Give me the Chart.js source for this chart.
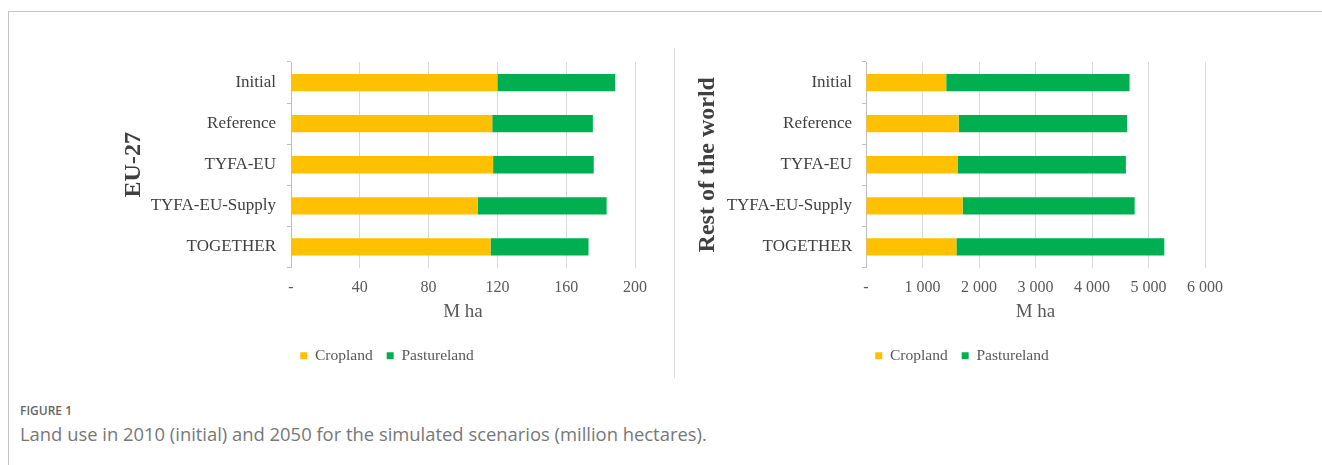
<!DOCTYPE html>
<html>
<head>
<meta charset="utf-8">
<script src="https://cdn.jsdelivr.net/npm/chart.js@4.4.0/dist/chart.umd.min.js"></script>
<style>
  body { margin: 0; background: #fff; width: 1322px; height: 465px; overflow: hidden; position: relative; }
  .frame { position: absolute; left: 8px; top: 11px; width: 1400px; height: 500px; border: 1px solid #c4c4c4; }
  .divider { position: absolute; left: 674px; top: 48px; width: 1px; height: 330px; background: #d9d9d9; }
  canvas { position: absolute; top: 0; }
  #eu { left: 0; }
  #row { left: 674px; }
  .fig { position: absolute; left: 20px; top: 402px; font: 600 12px "Open Sans"; color: #666; }
  .caption { position: absolute; left: 20px; top: 421px; font: 400 18.4px "Open Sans"; color: #777; }
</style>
</head>
<body>
<div class="frame"></div>
<div class="divider"></div>
<canvas id="eu" width="674" height="400"></canvas>
<canvas id="row" width="648" height="400"></canvas>
<div class="fig">FIGURE 1</div>
<div class="caption">Land use in 2010 (initial) and 2050 for the simulated scenarios (million hectares).</div>

<script>
const categories = ["Initial", "Reference", "TYFA-EU", "TYFA-EU-Supply", "TOGETHER"];

// EU-27, million hectares
const euCropland = [120, 117, 117.5, 108.5, 116];
const euPastureland = [68.5, 58.5, 58.5, 75, 57];

// Rest of the world, million hectares
const rowCropland = [1420, 1640, 1620, 1710, 1600];
const rowPastureland = [3245, 2980, 2980, 3045, 3680];

const euTicks = { max: 200, step: 40 };
const rowTicks = { max: 6000, step: 1000 };

const cropColor = "#FFC000";
const pastureColor = "#00B050";
const serif = "'Liberation Serif', 'Times New Roman', serif";

// Excel style: "-" for zero, space as thousands separator
const formatTick = (v) => (v === 0 ? "-" : String(v).replace(/\B(?=(\d{3})+(?!\d))/g, " "));

function drawPanel(id, title, crop, pasture, ticks, box) {
  new Chart(document.getElementById(id), {
    type: "bar",
    data: {
      labels: categories,
      datasets: [
        { label: "Cropland", data: crop, backgroundColor: cropColor },
        { label: "Pastureland", data: pasture, backgroundColor: pastureColor },
      ],
    },
    options: {
      indexAxis: "y",
      responsive: false,
      animation: false,
      devicePixelRatio: 1,
      barPercentage: 0.42,
      categoryPercentage: 1,
      layout: { padding: { top: 62, left: box.left, right: box.right, bottom: 26.5 } },
      plugins: {
        tooltip: { enabled: false },
        legend: {
          position: "bottom",
          labels: { boxWidth: 7, boxHeight: 7, padding: 14, color: "#595959", font: { family: serif, size: 15.5 } },
        },
      },
      scales: {
        x: {
          stacked: true,
          min: 0,
          max: ticks.max,
          ticks: { stepSize: ticks.step, callback: formatTick, color: "#595959", padding: 11, font: { family: serif, size: 16 } },
          grid: { color: "#d9d9d9", drawTicks: false },
          border: { display: false },
          title: { display: true, text: "M ha", color: "#595959", font: { family: serif, size: 19 }, padding: { top: 0, bottom: 11 } },
          afterFit: (s) => { s.height = 66.5; },
        },
        y: {
          stacked: true,
          ticks: { color: "#404040", padding: box.labelPad, font: { family: serif, size: 17 } },
          grid: { drawOnChartArea: false, drawTicks: true, tickLength: 4, color: "#bfbfbf" },
          border: { display: true, color: "#bfbfbf" },
          title: {
            display: true,
            text: title,
            color: "#404040",
            font: { family: serif, size: 24, weight: "bold" },
            padding: { top: box.titlePad, bottom: 0 },
          },
          afterFit: (s) => { s.width = box.axisWidth; },
        },
      },
    },
  });
}

drawPanel("eu", "EU-27", euCropland, euPastureland, euTicks,
  { left: 139, right: 39, axisWidth: 152, labelPad: 11, titlePad: -19.4 });
drawPanel("row", "Rest of the world", rowCropland, rowPastureland, rowTicks,
  { left: 45, right: 117, axisWidth: 147, labelPad: 10, titlePad: -25.4 });
</script>
</body>
</html>
